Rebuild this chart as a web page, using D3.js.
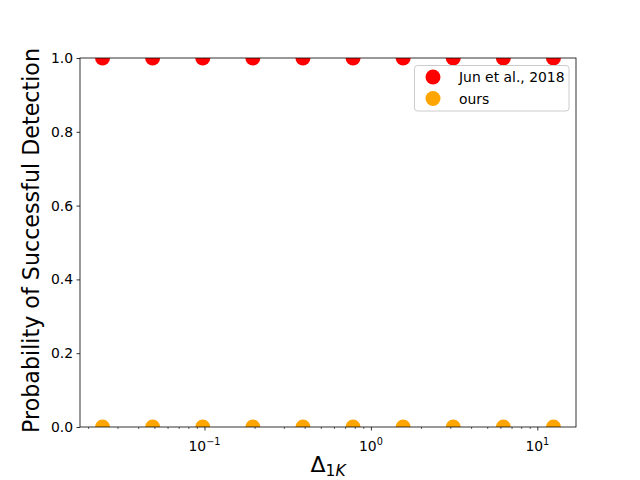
<!DOCTYPE html>
<html><head><meta charset="utf-8">
<script src="https://cdn.jsdelivr.net/npm/d3@7"></script>
<style>body{margin:0;background:#fff}svg{display:block;font-family:"DejaVu Sans",sans-serif}</style>
</head><body><svg id="c" width="640" height="480"></svg>
<script>
const xValues = [0.0244140625, 0.048828125, 0.09765625, 0.1953125, 0.390625, 0.78125, 1.5625, 3.125, 6.25, 12.5];
const junValues = [1, 1, 1, 1, 1, 1, 1, 1, 1, 1];
const oursValues = [0, 0, 0, 0, 0, 0, 0, 0, 0, 0];
const seriesNames = ["Jun et al., 2018", "ours"];
const seriesColors = ["#ff0000", "#ffa500"];
const yTicks = [0, 0.2, 0.4, 0.6, 0.8, 1.0];
const xMajorExps = [-1, 0, 1];

const svg = d3.select("#c");
const L = 80, R = 576, T = 58, B = 427;
const lmin = Math.log10(d3.min(xValues)), lmax = Math.log10(d3.max(xValues));
const pad = (lmax - lmin) * 0.05;
const x = d3.scaleLog().domain([Math.pow(10, lmin - pad), Math.pow(10, lmax + pad)]).range([L, R]);
const y = d3.scaleLinear().domain([0, 1]).range([B, T]);

svg.append("defs").append("clipPath").attr("id", "clip")
  .append("rect").attr("x", L).attr("y", T).attr("width", R - L).attr("height", B - T);

const g = svg.append("g").attr("clip-path", "url(#clip)");
[junValues, oursValues].forEach((vals, si) => {
  g.selectAll(null).data(xValues.map((v, i) => [v, vals[i]])).enter().append("circle")
    .attr("cx", d => x(d[0])).attr("cy", d => y(d[1])).attr("r", 7.5)
    .attr("fill", seriesColors[si]);
});

// spines
svg.append("rect").attr("x", L).attr("y", T).attr("width", R - L).attr("height", B - T)
  .attr("fill", "none").attr("stroke", "#000").attr("stroke-width", 0.8);

// y axis
const yAxis = d3.axisLeft(y).tickValues(yTicks).tickFormat(d3.format(".1f")).tickSize(3.5).tickPadding(3.5);
const ya = svg.append("g").attr("transform", `translate(${L},0)`).call(yAxis);
ya.select(".domain").remove();
ya.selectAll("line").attr("stroke-width", 0.8);
ya.selectAll("text").attr("font-size", 13.9).attr("font-family", "DejaVu Sans").attr("fill", "#000");

// x axis minor ticks
const [d0, d1] = x.domain();
const minor = [];
for (let e = Math.floor(Math.log10(d0)); e <= Math.ceil(Math.log10(d1)); e++) {
  for (let m = 2; m <= 9; m++) { const v = m * Math.pow(10, e); if (v >= d0 && v <= d1) minor.push(v); }
}
const xMinor = d3.axisBottom(x).tickValues(minor).tickFormat("").tickSize(2);
const xm = svg.append("g").attr("transform", `translate(0,${B})`).call(xMinor);
xm.select(".domain").remove();
xm.selectAll("line").attr("stroke-width", 0.6);

const majors = xMajorExps.map(e => Math.pow(10, e));
const xMajor = d3.axisBottom(x).tickValues(majors).tickFormat("").tickSize(3.5);
const xa = svg.append("g").attr("transform", `translate(0,${B})`).call(xMajor);
xa.select(".domain").remove();
xa.selectAll("line").attr("stroke-width", 0.8);
xMajorExps.forEach(e => {
  const t = svg.append("text").attr("x", x(Math.pow(10, e))).attr("y", 451)
    .attr("text-anchor", "middle").attr("font-size", 13.9).attr("fill", "#000");
  t.append("tspan").text("10");
  t.append("tspan").attr("dy", -6).attr("font-size", 9.7).text(e < 0 ? "\u2212" + (-e) : String(e));
});

// labels
const xl = svg.append("text").attr("x", (L + R) / 2).attr("y", 472).attr("text-anchor", "middle")
  .attr("font-size", 22).attr("fill", "#000");
xl.append("tspan").text("\u0394");
xl.append("tspan").attr("dy", 4).attr("font-size", 15.5).text("1");
xl.append("tspan").attr("font-size", 15.5).attr("font-style", "italic").text("K");

svg.append("text").attr("transform", `translate(39,${(T + B) / 2 - 2}) rotate(-90)`)
  .attr("text-anchor", "middle").attr("font-size", 22.2).attr("fill", "#000")
  .text("Probability of Successful Detection");

// legend
const lg = svg.append("g");
lg.append("rect").attr("x", 414.5).attr("y", 65.5).attr("width", 154.5).attr("height", 45.5)
  .attr("rx", 3).attr("fill", "#fff").attr("fill-opacity", 0.8).attr("stroke", "#cccccc").attr("stroke-width", 1);
seriesNames.forEach((n, i) => {
  const cy = 77 + i * 21.5;
  lg.append("circle").attr("cx", 433).attr("cy", cy).attr("r", 7.5).attr("fill", seriesColors[i]);
  lg.append("text").attr("x", 459).attr("y", cy + 5).attr("font-size", 13.9).attr("fill", "#000").text(n);
});
</script></body></html>
